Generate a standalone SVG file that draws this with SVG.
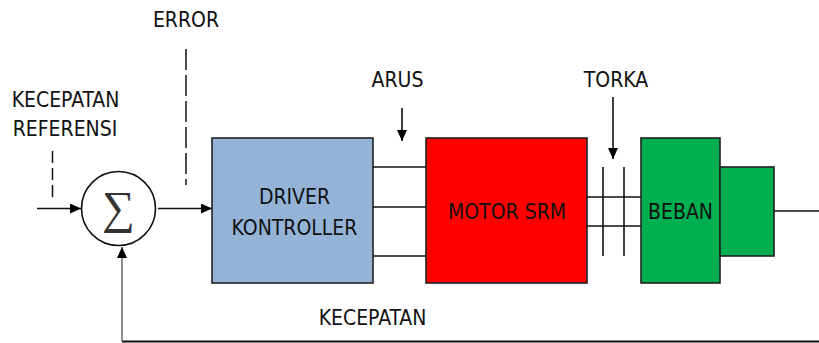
<svg xmlns="http://www.w3.org/2000/svg" width="819" height="343" viewBox="0 0 819 343">
<style>
.t{font-family:"Liberation Sans Narrow","DejaVu Sans Condensed","Liberation Sans",sans-serif;font-size:21px;fill:#111;text-anchor:middle}
.ln{stroke:#111;stroke-width:1.6;fill:none}
.box{stroke:#222;stroke-width:1.6}
.dash{stroke:#111;stroke-width:1.5;fill:none}
</style>
<defs>
<marker id="ah" markerWidth="12" markerHeight="10" refX="11" refY="5" orient="auto" markerUnits="userSpaceOnUse">
<path d="M0,0 L11,5 L0,10 Z" fill="#000"/>
</marker>
</defs>
<rect width="819" height="343" fill="#fff"/>
<g id="connectors">
<line class="ln" x1="37" y1="208.5" x2="81" y2="208.5" marker-end="url(#ah)"/>
<line class="ln" x1="158" y1="208.5" x2="212" y2="208.5" marker-end="url(#ah)"/>
<line class="ln" x1="373" y1="167" x2="426" y2="167"/>
<line class="ln" x1="373" y1="207" x2="426" y2="207"/>
<line class="ln" x1="373" y1="256" x2="426" y2="256"/>
<line class="ln" x1="587" y1="197" x2="641" y2="197"/>
<line class="ln" x1="587" y1="226" x2="641" y2="226"/>
<line class="ln" x1="603" y1="167" x2="603" y2="256"/>
<line class="ln" x1="624" y1="167" x2="624" y2="256"/>
<line class="ln" x1="774" y1="211" x2="819" y2="211"/>
<line class="ln" x1="402" y1="108" x2="402" y2="141" marker-end="url(#ah)"/>
<line class="ln" x1="613" y1="97" x2="613" y2="159" marker-end="url(#ah)"/>
<polyline fill="none" stroke="#111" stroke-width="1.8" points="819,341.5 122,341.5"/>
<line x1="122" y1="341.5" x2="122" y2="247" stroke="#666" stroke-width="1.5" marker-end="url(#ah)"/>
<line class="dash" x1="186" y1="49" x2="186" y2="185" stroke-dasharray="21 5"/>
<line class="dash" x1="52.5" y1="151" x2="52.5" y2="197" stroke-dasharray="12 5"/>
</g>
<g id="sum">
<circle cx="118.5" cy="208.5" r="37" fill="#fff" stroke="#111" stroke-width="1.6"/>
<text x="118.5" y="223" font-family="Liberation Serif,serif" font-size="46" fill="#333" text-anchor="middle">∑</text>
</g>
<g id="driver">
<rect class="box" x="212" y="138" width="161" height="145" fill="#95B3D7"/>
<text class="t" x="294.5" y="204">DRIVER</text>
<text class="t" x="294.5" y="235">KONTROLLER</text>
</g>
<g id="motor">
<rect class="box" x="426" y="138" width="161" height="145" fill="#FF0000"/>
<text class="t" x="507" y="219">MOTOR SRM</text>
</g>
<g id="beban">
<rect class="box" x="641" y="138" width="79" height="145" fill="#00B050"/>
<rect class="box" x="720" y="167" width="54" height="89" fill="#00B050"/>
<text class="t" x="680.5" y="219">BEBAN</text>
</g>
<g id="labels">
<text class="t" x="186" y="27">ERROR</text>
<text class="t" x="65.5" y="107">KECEPATAN</text>
<text class="t" x="65" y="136">REFERENSI</text>
<text class="t" x="397.5" y="87">ARUS</text>
<text class="t" x="616" y="87">TORKA</text>
<text class="t" x="372.5" y="325">KECEPATAN</text>
</g>
</svg>
